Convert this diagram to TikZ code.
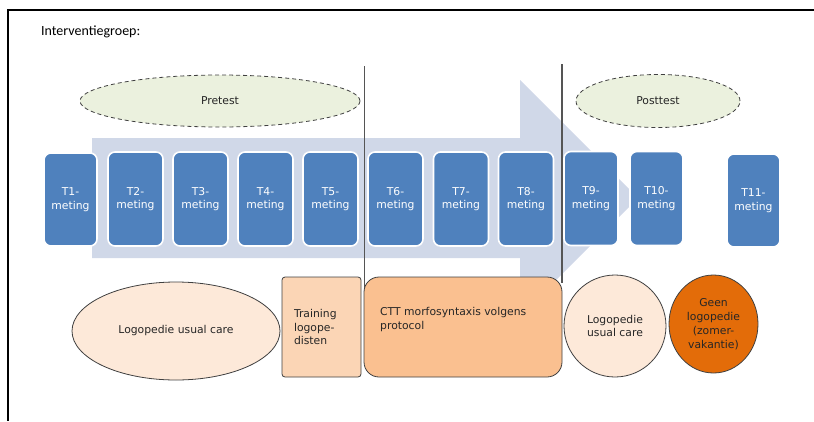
\documentclass[tikz,border=0pt]{standalone}
\usepackage{fontspec}
\setmainfont{DejaVu Sans}
\newfontfamily\titlefont{Carlito}
\usetikzlibrary{shapes.geometric}

\definecolor{arrowfill}{RGB}{208,216,232}
\definecolor{stepblue}{RGB}{79,129,189}
\definecolor{testfill}{RGB}{235,241,222}
\definecolor{peachlight}{RGB}{253,233,217}
\definecolor{peachmid}{RGB}{251,213,181}
\definecolor{peachdark}{RGB}{250,192,144}
\definecolor{summerorange}{RGB}{227,108,9}
\definecolor{edgegray}{RGB}{64,64,64}
\definecolor{dividergray}{RGB}{85,85,85}
\definecolor{inktext}{RGB}{38,38,38}

\tikzset{
  txt/.style={font=\fontsize{10.8}{13.6}\selectfont},
  measure/.style={txt, draw=white, line width=1.6pt, fill=stepblue,
    rounded corners=7pt, text=white, align=center,
    minimum width=55pt, minimum height=94pt, inner sep=0pt},
  testoval/.style={txt, ellipse, draw=edgegray, dashed,
    dash pattern=on 4pt off 3pt, line width=0.8pt, fill=testfill,
    text=inktext, inner sep=0pt},
  careshape/.style={txt, draw=edgegray, line width=0.8pt, text=inktext,
    inner sep=0pt, align=center},
  divider/.style={draw=dividergray, line width=1.1pt},
}

\begin{document}
\begin{tikzpicture}[x=1pt,y=-1pt]
\useasboundingbox (0,0) rectangle (814,421);

% partial frame
\draw[line width=2pt] (814,10) -- (8,10) -- (8,421);

% heading
\node[anchor=west, inner sep=0pt, text=black, font=\titlefont\fontsize{14}{16}\selectfont]
  (title) at (41,32) {Interventiegroep:};

% timeline arrow
\fill[arrowfill] (92,138) -- (520,138) -- (520,80) -- (638,198)
  -- (520,316) -- (520,258) -- (92,258) -- cycle;

% phase dividers
\coordinate (d1top) at (364.5,66);
\coordinate (d1bot) at (364.5,293);
\coordinate (d2top) at (562,64);
\coordinate (d2bot) at (562,283);
\draw[divider] (d1top) -- (d1bot);
\draw[divider] (d2top) -- (d2bot);

% measurement moments
\node[measure, minimum width=53pt, minimum height=93pt] (t1) at (70.5,199.5) {T1-\\meting};
\node[measure] (t2) at (135.5,199) {T2-\\meting};
\node[measure] (t3) at (200.5,199) {T3-\\meting};
\node[measure] (t4) at (265.5,199) {T4-\\meting};
\node[measure] (t5) at (330.5,199) {T5-\\meting};
\node[measure] (t6) at (395.5,199) {T6-\\meting};
\node[measure] (t7) at (461,199) {T7-\\meting};
\node[measure] (t8) at (526,199) {T8-\\meting};
\node[measure, minimum width=54pt] (t9) at (591,198.5) {T9-\\meting};
\node[measure, minimum width=53pt] (t10) at (656.5,198.5) {T10-\\meting};
\node[measure, minimum width=53pt, minimum height=93pt] (t11) at (753.5,200.5) {T11-\\meting};

% test phases
\node[testoval, minimum width=280pt, minimum height=52pt] (pre) at (220,101) {Pretest};
\node[testoval, minimum width=164pt, minimum height=53pt] (post) at (658,101) {Posttest};

% care conditions
\node[careshape, ellipse, fill=peachlight, minimum width=208pt, minimum height=98pt]
  (usual1) at (176,331) {Logopedie usual care};
\node[careshape, rectangle, rounded corners=3pt, fill=peachmid,
  minimum width=79pt, minimum height=100pt, text width=55pt,
  inner xsep=12pt, align=left] (training) at (321.5,327)
  {Training\\logope-\\disten};
\node[careshape, rectangle, rounded corners=15pt, fill=peachdark,
  minimum width=198pt, minimum height=100pt] (ctt) at (463,327) {};
\node[txt, anchor=north west, inner sep=0pt, align=left, text=inktext]
  (cttlabel) at (380,307) {CTT morfosyntaxis volgens\\protocol};
\node[careshape, ellipse, fill=peachlight, minimum width=102pt, minimum height=102pt]
  (usual2) at (615,326) {Logopedie\\usual care};
\node[careshape, ellipse, fill=summerorange, minimum width=89pt, minimum height=98pt,
  font=\fontsize{10.8}{14}\selectfont] (summer) at (713.5,324)
  {Geen\\logopedie\\(zomer-\\vakantie)};
\end{tikzpicture}
\end{document}
